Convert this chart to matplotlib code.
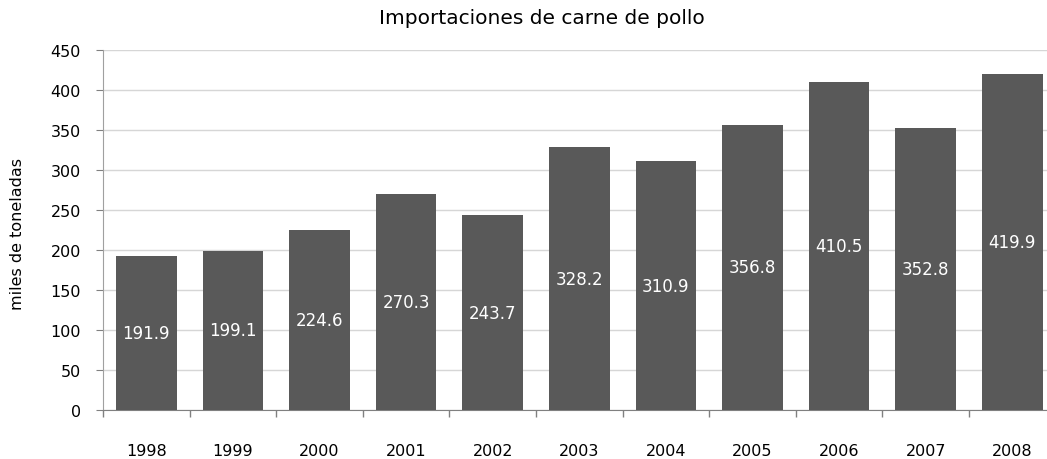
import matplotlib
matplotlib.use("Agg")
import matplotlib.pyplot as plt

years = ["1998", "1999", "2000", "2001", "2002", "2003", "2004", "2005", "2006", "2007", "2008"]
values = [191.9, 199.1, 224.6, 270.3, 243.7, 328.2, 310.9, 356.8, 410.5, 352.8, 419.9]
yticks = [0, 50, 100, 150, 200, 250, 300, 350, 400, 450]

plt.rcParams['font.family'] = ['DejaVu Sans']
fig = plt.figure(figsize=(10.47, 4.6), dpi=100)
ax = fig.add_axes([103 / 1047, 0.1065, 952.6 / 1047, 0.7826])

x = list(range(len(years)))
bars = ax.bar(x, values, width=0.70, color="#595959", zorder=3)
for xi, v in zip(x, values):
    ax.text(xi, v / 2, f"{v:.1f}", ha="center", va="center", color="white", fontsize=12, zorder=4)

ax.set_xlim(-0.5, len(years) - 0.5)
ax.set_ylim(0, 450)
ax.set_yticks(yticks)
ax.set_xticks(x)
ax.set_xticklabels(years, fontsize=11.5)
ax.tick_params(axis="x", length=0, pad=24)
ax.set_xticks([i - 0.5 for i in range(len(years) + 1)], minor=True)
ax.tick_params(axis="x", which="minor", length=5, color="#808080", width=1)
ax.tick_params(axis="y", length=5, color="#808080", labelsize=11.5, pad=11)
ax.yaxis.grid(True, color="#d6d6d6", linewidth=1, zorder=0)
for s in ["top", "right"]:
    ax.spines[s].set_visible(False)
ax.spines["bottom"].set_color("#808080")
ax.spines["left"].set_color("#a0a0a0")
ax.spines["left"].set_linestyle((0, (1, 1)))
fig.text(18 / 1047, 1 - 234 / 460, "miles de toneladas", rotation=90, ha="center", va="center", fontsize=11.5)
fig.text(542 / 1047, 1 - 18 / 460, "Importaciones de carne de pollo", ha="center", va="center", fontsize=14.5)

fig.savefig("out.png", dpi=100)
